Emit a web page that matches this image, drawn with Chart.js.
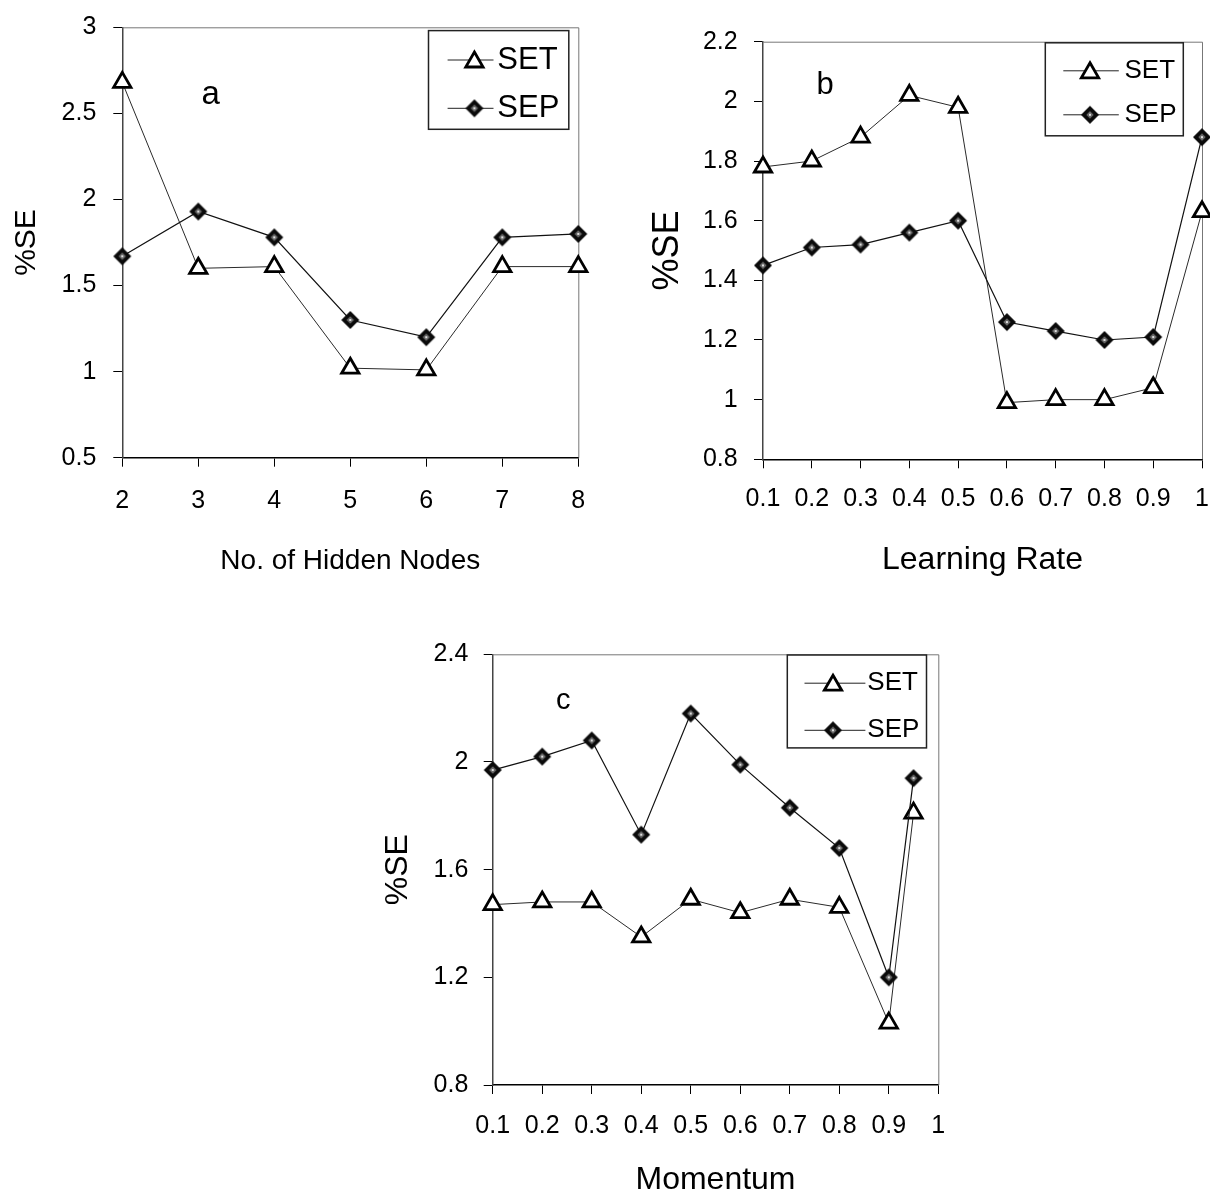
<!DOCTYPE html>
<html><head><meta charset="utf-8">
<script src="https://cdn.jsdelivr.net/npm/chart.js@4.4.1/dist/chart.umd.min.js"></script>
<style>
html,body{margin:0;padding:0;background:#fff;overflow:hidden;width:1210px;height:1198px}
canvas{position:absolute}
#ca{left:0;top:0}
#cb{left:605px;top:0}
#cc{left:360px;top:598px}
</style></head><body>
<canvas id="ca" width="605" height="600"></canvas>
<canvas id="cb" width="605" height="600"></canvas>
<canvas id="cc" width="600" height="600"></canvas>
<script>
// ---------- Panel a: hidden nodes ----------
const aNodes = [2, 3, 4, 5, 6, 7, 8];
const aSET = [2.68, 1.60, 1.61, 1.02, 1.01, 1.61, 1.61];
const aSEP = [1.67, 1.93, 1.78, 1.30, 1.20, 1.78, 1.80];
const aXTicks = [2, 3, 4, 5, 6, 7, 8];
const aYTicks = [0.5, 1, 1.5, 2, 2.5, 3];

// ---------- Panel b: learning rate ----------
const bRates = [0.1, 0.2, 0.3, 0.4, 0.5, 0.6, 0.7, 0.8, 0.9, 1];
const bSET = [1.78, 1.80, 1.88, 2.02, 1.98, 0.99, 1.00, 1.00, 1.04, 1.63];
const bSEP = [1.45, 1.51, 1.52, 1.56, 1.60, 1.26, 1.23, 1.20, 1.21, 1.88];
const bXTicks = [0.1, 0.2, 0.3, 0.4, 0.5, 0.6, 0.7, 0.8, 0.9, 1];
const bYTicks = [0.8, 1, 1.2, 1.4, 1.6, 1.8, 2, 2.2];

// ---------- Panel c: momentum ----------
const cMomentum = [0.1, 0.2, 0.3, 0.4, 0.5, 0.6, 0.7, 0.8, 0.9, 0.95];
const cSET = [1.47, 1.48, 1.48, 1.35, 1.49, 1.44, 1.49, 1.46, 1.03, 1.81];
const cSEP = [1.97, 2.02, 2.08, 1.73, 2.18, 1.99, 1.83, 1.68, 1.20, 1.94];
const cXTicks = [0.1, 0.2, 0.3, 0.4, 0.5, 0.6, 0.7, 0.8, 0.9, 1];
const cYTicks = [0.8, 1.2, 1.6, 2, 2.4];

const seriesNames = ['SET', 'SEP'];
const FONT = '"Liberation Sans", Arial, Helvetica, sans-serif';
const TICK_SIZE = 25;

function makeDiamond(r) {
  const s = Math.ceil(r * 2 + 4);
  const c = document.createElement('canvas');
  c.width = s; c.height = s;
  const g = c.getContext('2d');
  const m = s / 2;
  const dia = (q) => { g.beginPath(); g.moveTo(m, m - q); g.lineTo(m + q, m); g.lineTo(m, m + q); g.lineTo(m - q, m); g.closePath(); };
  dia(r); g.fillStyle = '#0a0a0a'; g.fill();
  dia(r * 0.42); g.fillStyle = '#6a6a6a'; g.fill();
  g.fillStyle = '#ddd'; g.fillRect(m - 1, m - 1, 2, 2);
  return c;
}
const diamondImg = makeDiamond(9);

const triStyle = { pointStyle: 'triangle', radius: 10, borderWidth: 2.8, rotation: 0 };

function drawTri(ctx, x, y) {
  ctx.save();
  ctx.fillStyle = '#fff'; ctx.strokeStyle = '#000'; ctx.lineWidth = triStyle.borderWidth;
  if (Chart.helpers && Chart.helpers.drawPoint) {
    Chart.helpers.drawPoint(ctx, triStyle, x, y);
  } else {
    const r = triStyle.radius;
    ctx.beginPath();
    ctx.moveTo(x, y - r);
    ctx.lineTo(x + r * Math.sin(2 * Math.PI / 3), y - r * Math.cos(2 * Math.PI / 3));
    ctx.lineTo(x - r * Math.sin(2 * Math.PI / 3), y - r * Math.cos(2 * Math.PI / 3));
    ctx.closePath(); ctx.fill(); ctx.stroke();
  }
  ctx.restore();
}

const framePlugin = {
  id: 'frame',
  beforeDatasetsDraw(chart) {
    const { ctx, chartArea: a } = chart;
    ctx.save();
    ctx.strokeStyle = '#777'; ctx.lineWidth = 1;
    ctx.beginPath();
    ctx.moveTo(a.left, a.top + 0.5); ctx.lineTo(a.right + 0.5, a.top + 0.5); ctx.lineTo(a.right + 0.5, a.bottom);
    ctx.stroke();
    ctx.restore();
  }
};

const legendPlugin = {
  id: 'seLegend',
  afterDraw(chart, args, o) {
    const ctx = chart.ctx;
    ctx.save();
    ctx.fillStyle = '#fff';
    ctx.fillRect(o.box[0], o.box[1], o.box[2] - o.box[0], o.box[3] - o.box[1]);
    ctx.strokeStyle = '#222'; ctx.lineWidth = 1.5;
    ctx.strokeRect(o.box[0], o.box[1], o.box[2] - o.box[0], o.box[3] - o.box[1]);
    seriesNames.forEach((name, i) => {
      const y = o.rows[i];
      ctx.strokeStyle = '#222'; ctx.lineWidth = 1;
      ctx.beginPath(); ctx.moveTo(o.line[0], y); ctx.lineTo(o.line[1], y); ctx.stroke();
      if (i === 0) drawTri(ctx, o.mark, y + 2);
      else ctx.drawImage(diamondImg, o.mark - diamondImg.width / 2, y - diamondImg.height / 2);
      ctx.fillStyle = '#000';
      ctx.font = o.size + 'px ' + FONT;
      ctx.textAlign = 'left'; ctx.textBaseline = 'middle';
      ctx.fillText(name, o.text, y);
    });
    ctx.restore();
  }
};

const tagPlugin = {
  id: 'panelTag',
  afterDraw(chart, args, o) {
    const ctx = chart.ctx;
    ctx.save();
    ctx.fillStyle = '#000';
    ctx.font = o.size + 'px ' + FONT;
    ctx.textAlign = 'center'; ctx.textBaseline = 'alphabetic';
    ctx.fillText(o.text, o.x, o.y);
    ctx.restore();
  }
};

function makeChart(id, o) {
  const pts = (xs, ys) => xs.map((x, i) => ({ x: x, y: ys[i] }));
  return new Chart(document.getElementById(id), {
    type: 'scatter',
    data: {
      datasets: [
        { label: seriesNames[0], data: pts(o.x, o.set), showLine: true, borderColor: '#2a2a2a', borderWidth: 1,
          pointStyle: 'triangle', pointRadius: triStyle.radius, pointBorderWidth: triStyle.borderWidth,
          pointBackgroundColor: '#fff', pointBorderColor: '#000', clip: false, order: 1 },
        { label: seriesNames[1], data: pts(o.x, o.sep), showLine: true, borderColor: '#111', borderWidth: 1.2,
          pointStyle: diamondImg, pointRadius: 9, clip: false, order: 0 }
      ]
    },
    options: {
      responsive: false, animation: false, events: [],
      layout: { autoPadding: false, padding: { left: 0, top: o.top, right: o.right, bottom: 0 } },
      plugins: {
        legend: { display: false }, tooltip: { enabled: false },
        seLegend: o.legend, panelTag: o.tag
      },
      scales: {
        x: {
          type: 'linear', min: o.xmin, max: o.xmax,
          afterBuildTicks: s => { s.ticks = o.xt.map(v => ({ value: v })); },
          afterFit: s => { s.height = o.xh; s.paddingLeft = 0; s.paddingRight = 0; },
          ticks: { color: '#000', font: { family: FONT, size: TICK_SIZE }, padding: o.xpad, maxRotation: 0, autoSkip: false, callback: v => String(v) },
          grid: { drawOnChartArea: false, drawTicks: true, tickLength: 9, color: '#000', lineWidth: 1 },
          border: { color: '#000', width: 1.5 },
          title: { display: true, text: o.xtitle, color: '#000', font: { family: FONT, size: o.xts, lineHeight: o.xlh || 1.2 }, padding: { top: 0, bottom: o.xtp } }
        },
        y: {
          type: 'linear', min: o.ymin, max: o.ymax,
          afterBuildTicks: s => { s.ticks = o.yt.map(v => ({ value: v })); },
          afterFit: s => { s.width = o.yw; s.paddingTop = 0; s.paddingBottom = 0; },
          ticks: { color: '#000', font: { family: FONT, size: TICK_SIZE }, padding: o.ypad, autoSkip: false, callback: v => String(v) },
          grid: { drawOnChartArea: false, drawTicks: true, tickLength: 9, color: '#000', lineWidth: 1 },
          border: { color: '#444', width: 1.5 },
          title: { display: true, text: '%SE', color: '#000', font: { family: FONT, size: o.yts, lineHeight: 1.2 }, padding: { top: o.ytp, bottom: 0 } }
        }
      }
    },
    plugins: [framePlugin, legendPlugin, tagPlugin]
  });
}

makeChart('ca', {
  x: aNodes, set: aSET, sep: aSEP, xt: aXTicks, yt: aYTicks,
  xmin: 2, xmax: 8, ymin: 0.5, ymax: 3,
  top: 27.3, right: 26.7, yw: 122.3, xh: 142.3,
  xpad: 19.3, ypad: 17, xtitle: 'No. of Hidden Nodes', xts: 28, xtp: 21.7, yts: 30, ytp: 9,
  legend: { box: [428.5, 30.6, 568.8, 129.3], rows: [60, 108.3], line: [447.6, 493.5], mark: 474.4, text: 497.3, size: 31 },
  tag: { text: 'a', x: 210.8, y: 104.2, size: 33 }
});

makeChart('cb', {
  x: bRates, set: bSET, sep: bSEP, xt: bXTicks, yt: bYTicks,
  xmin: 0.1, xmax: 1, ymin: 0.8, ymax: 2.2,
  top: 41.7, right: 8, yw: 158, xh: 140.7,
  xpad: 15.8, ypad: 16.3, xtitle: 'Learning Rate', xts: 32, xtp: 20.8, yts: 36, ytp: 41.4,
  legend: { box: [440.3, 42.8, 578.3, 135.8], rows: [70.8, 114.8], line: [458.3, 513.8], mark: 485, text: 519.5, size: 26 },
  tag: { text: 'b', x: 220, y: 93.9, size: 31 }
});

makeChart('cc', {
  x: cMomentum, set: cSET, sep: cSEP, xt: cXTicks, yt: cYTicks,
  xmin: 0.1, xmax: 1, ymin: 0.8, ymax: 2.4,
  top: 56.3, right: 21.7, yw: 132.7, xh: 113,
  xpad: 17, ypad: 15.4, xtitle: 'Momentum', xts: 32, xlh: 1, xtp: 2, yts: 32, ytp: 18.8,
  legend: { box: [427.3, 57, 566.5, 149.9], rows: [85.2, 132.3], line: [444.5, 505.4], mark: 473, text: 507.3, size: 26 },
  tag: { text: 'c', x: 203.2, y: 111.4, size: 29 }
});
</script>
</body></html>
